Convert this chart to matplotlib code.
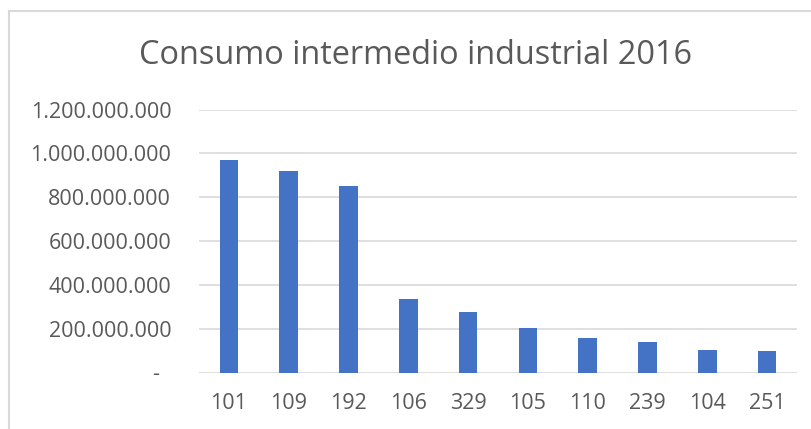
import matplotlib
matplotlib.use("Agg")
import matplotlib.pyplot as plt
from matplotlib.lines import Line2D
from matplotlib.ticker import FuncFormatter

plt.rcParams['font.family'] = ['Open Sans', 'DejaVu Sans']

categories = ["101", "109", "192", "106", "329", "105", "110", "239", "104", "251"]
values = [970e6, 921e6, 850e6, 334e6, 276e6, 202e6, 157e6, 138e6, 102e6, 99e6]
y_ticks = [0, 200e6, 400e6, 600e6, 800e6, 1000e6, 1200e6]

text_col = "#595959"
grid_col = "#D9D9D9"

W, H = 812, 429
fig = plt.figure(figsize=(W / 100, H / 100), dpi=100)
ax = fig.add_axes([199 / W, 1 - 372.5 / H, 598 / W, (372.5 - 109.5) / H])

x = range(len(categories))
ax.bar(x, values, width=0.31, color="#4472C4", zorder=3)

ax.set_xlim(-0.5, len(categories) - 0.5)
ax.set_ylim(0, 1200e6)
ax.set_yticks(y_ticks)
ax.set_xticks(list(x))
ax.set_xticklabels(categories)


def fmt(v, pos):
    if v == 0:
        return "-  "
    return f"{int(v):,}".replace(",", ".")


ax.yaxis.set_major_formatter(FuncFormatter(fmt))
ax.grid(axis="y", color=grid_col, linewidth=1.2, zorder=0)
for s in ax.spines.values():
    s.set_visible(False)
ax.tick_params(axis="both", length=0, labelsize=15.5, labelcolor=text_col)
ax.tick_params(axis="y", pad=20)
ax.tick_params(axis="x", pad=15)

fig.text(416 / W, 1 - 56 / H, "Consumo intermedio industrial 2016",
         ha="center", va="center", fontsize=23.4, color=text_col)

# chart border (only left and top edges visible)
fig.add_artist(Line2D([9 / W, 9 / W], [0, 1 - 11 / H], transform=fig.transFigure,
                      color=grid_col, linewidth=1.5))
fig.add_artist(Line2D([9 / W, 1], [1 - 11 / H, 1 - 11 / H], transform=fig.transFigure,
                      color=grid_col, linewidth=1.5))

fig.savefig("out.png", dpi=100)
